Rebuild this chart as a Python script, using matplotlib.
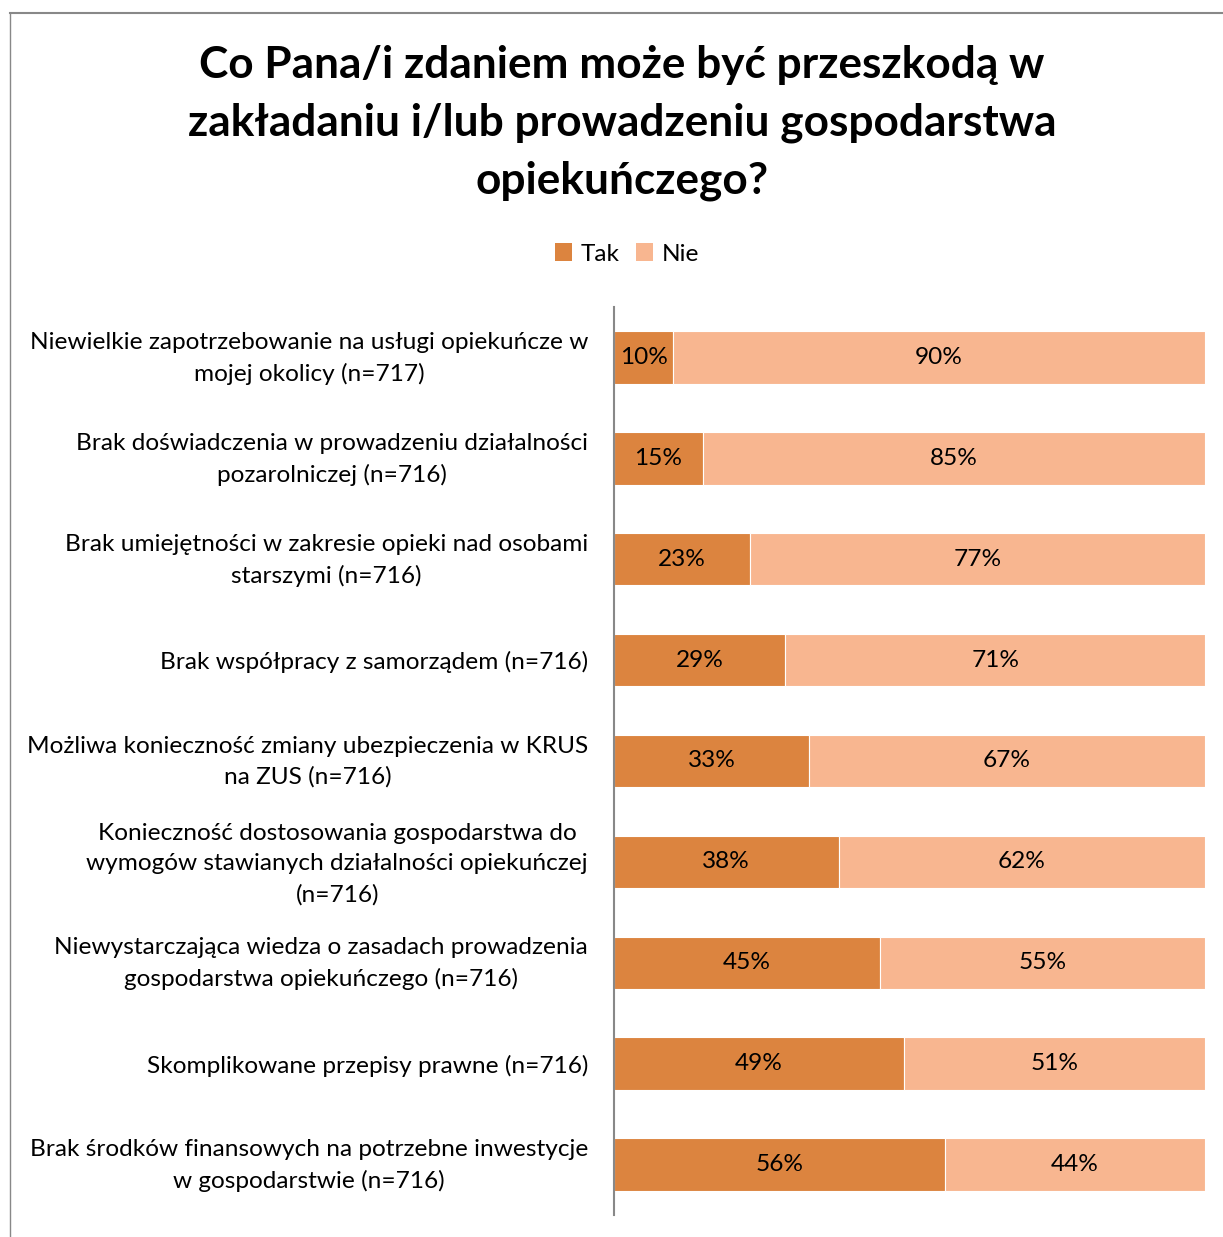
import matplotlib
matplotlib.use("Agg")
import matplotlib.pyplot as plt
from matplotlib.lines import Line2D
from matplotlib.patches import Patch

plt.rcParams['font.family'] = ['Lato', 'DejaVu Sans']

title = "Co Pana/i zdaniem może być przeszkodą w\nzakładaniu i/lub prowadzeniu gospodarstwa\nopiekuńczego?"
categories = [
    "Niewielkie zapotrzebowanie na usługi opiekuńcze w\nmojej okolicy (n=717)",
    "Brak doświadczenia w prowadzeniu działalności\npozarolniczej (n=716)",
    "Brak umiejętności w zakresie opieki nad osobami\nstarszymi (n=716)",
    "Brak współpracy z samorządem (n=716)",
    "Możliwa konieczność zmiany ubezpieczenia w KRUS\nna ZUS (n=716)",
    "Konieczność dostosowania gospodarstwa do\nwymogów stawianych działalności opiekuńczej\n(n=716)",
    "Niewystarczająca wiedza o zasadach prowadzenia\ngospodarstwa opiekuńczego (n=716)",
    "Skomplikowane przepisy prawne (n=716)",
    "Brak środków finansowych na potrzebne inwestycje\nw gospodarstwie (n=716)",
]
tak = [10, 15, 23, 29, 33, 38, 45, 49, 56]
nie = [90, 85, 77, 71, 67, 62, 55, 51, 44]
series_names = ["Tak", "Nie"]

c_tak = "#DC843F"
c_nie = "#F8B690"
fs = 17.6

fig = plt.figure(figsize=(12.23, 12.37), dpi=100)
ax = fig.add_axes([614/1223, 1-1215/1237, (1205-614)/1223, (1215-307)/1237])

y = list(range(len(categories)))
bh = 0.52
ax.barh(y, tak, height=bh, color=c_tak, edgecolor="white", linewidth=0.8)
ax.barh(y, nie, left=tak, height=bh, color=c_nie, edgecolor="white", linewidth=0.8)

for i in y:
    ax.text(tak[i]/2, i, f"{tak[i]}%", ha="center", va="center", fontsize=fs, color="#000000")
    ax.text(tak[i] + nie[i]/2, i, f"{nie[i]}%", ha="center", va="center", fontsize=fs, color="#000000")

ax.set_xlim(0, 100)
ax.set_ylim(len(categories)-0.5, -0.5)
ax.set_xticks([])
ax.set_yticks(y)
ax.set_yticklabels([])
ax.tick_params(axis="y", length=0)

# category labels, right-aligned next to the axis, lines centered
for i, lab in zip(y, categories):
    n = lab.count("\n") + 1
    dy = {1: -2, 2: -1, 3: -2}[n]
    ax.annotate(lab, xy=(0, i), xycoords=ax.get_yaxis_transform(),
                xytext=(-26, dy), textcoords="offset pixels",
                ha="right", va="center", multialignment="center",
                fontsize=fs, linespacing=1.55)

for s in ["top", "right", "bottom"]:
    ax.spines[s].set_visible(False)
ax.spines["left"].set_color("#888888")
ax.spines["left"].set_linewidth(1.5)

fig.text(622/1223, 1-123/1237, title, ha="center", va="center", fontsize=31.8,
         fontweight="bold", linespacing=1.54)

handles = [Patch(facecolor=c_tak, edgecolor="none"), Patch(facecolor=c_nie, edgecolor="none")]
fig.legend(handles, series_names, loc="center", bbox_to_anchor=(627/1223, 1-254/1237), ncol=2,
           frameon=False, fontsize=fs, handlelength=0.7, handleheight=0.7,
           handletextpad=0.35, columnspacing=0.7)

# outer chart frame
fig.add_artist(Line2D([10/1223, 1.0], [1-13/1237, 1-13/1237], color="#888888", lw=1.5,
                      transform=fig.transFigure))
fig.add_artist(Line2D([10/1223, 10/1223], [0, 1-13/1237], color="#888888", lw=1.0,
                      transform=fig.transFigure))

fig.savefig("out.png", dpi=100)
